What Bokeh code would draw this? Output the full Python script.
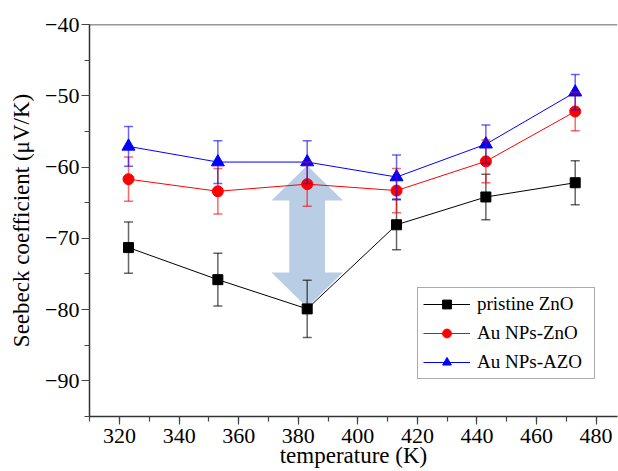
from bokeh.plotting import figure
from bokeh.models import (ColumnDataSource, Whisker, TeeHead, Span, Legend, LegendItem,
                          SingleIntervalTicker, CustomJSTickFormatter, Range1d)
from bokeh.embed import file_html
from bokeh.resources import INLINE

# ---- data ----
temperature = [323, 353, 383, 413, 443, 473]
pristine_zno = [-71.3, -75.8, -79.9, -68.1, -64.2, -62.2]
pristine_err = [3.6, 3.7, 4.0, 3.5, 3.2, 3.1]
au_zno = [-61.7, -63.4, -62.4, -63.3, -59.2, -52.2]
au_zno_err = [3.1, 3.2, 3.1, 3.1, 3.0, 2.7]
au_azo = [-57.1, -59.3, -59.3, -61.4, -56.8, -49.5]
au_azo_err = [2.8, 3.0, 3.0, 3.1, 2.7, 2.5]
series_names = ["pristine ZnO", "Au NPs-ZnO", "Au NPs-AZO"]

# arrow annotation (double-headed, at 383 K)
arrow_x = temperature[2]
arrow_top, arrow_bottom = -59.8, -79.7
arrow_head_len = 4.9
arrow_head_half = 12.0
arrow_shaft_half = 6.0

FONT = "'Liberation Serif', 'Times New Roman', serif"

p = figure(width=618, height=471, x_range=Range1d(309.9, 487.2), y_range=Range1d(-95, -40),
           output_backend="svg", toolbar_location=None,
           min_border_left=89, min_border_right=1, min_border_top=24, min_border_bottom=55)
p.outline_line_color = None
p.xgrid.visible = False
p.ygrid.visible = False
p.background_fill_color = "white"
p.border_fill_color = "white"

# arrow
ax = [arrow_x, arrow_x + arrow_head_half, arrow_x + arrow_shaft_half, arrow_x + arrow_shaft_half,
      arrow_x + arrow_head_half, arrow_x, arrow_x - arrow_head_half, arrow_x - arrow_shaft_half,
      arrow_x - arrow_shaft_half, arrow_x - arrow_head_half]
ay = [arrow_top, arrow_top - arrow_head_len, arrow_top - arrow_head_len,
      arrow_bottom + arrow_head_len, arrow_bottom + arrow_head_len, arrow_bottom,
      arrow_bottom + arrow_head_len, arrow_bottom + arrow_head_len,
      arrow_top - arrow_head_len, arrow_top - arrow_head_len]
p.patch(ax, ay, fill_color="#b9cde5", line_color=None)

colors = ["black", "#ff0000", "#0000ff"]
markers = ["square", "circle", "triangle"]
sizes = [10, 11, 13]
values = [pristine_zno, au_zno, au_azo]
errors = [pristine_err, au_zno_err, au_azo_err]

items = []
for name, col, mk, sz, vals, errs in zip(series_names, colors, markers, sizes, values, errors):
    src = ColumnDataSource(dict(x=temperature, y=vals,
                                upper=[v + e for v, e in zip(vals, errs)],
                                lower=[v - e for v, e in zip(vals, errs)]))
    ln = p.line("x", "y", source=src, line_color=col, line_width=1)
    sc = p.scatter("x", "y", source=src, marker=mk, size=sz, fill_color=col, line_color=col)
    w = Whisker(source=src, base="x", upper="upper", lower="lower", dimension="height",
                line_color=col, line_alpha=0.6, line_width=1.5, level="annotation",
                upper_head=TeeHead(size=9, line_color=col, line_alpha=0.6, line_width=1.5),
                lower_head=TeeHead(size=9, line_color=col, line_alpha=0.6, line_width=1.5))
    p.add_layout(w)
    items.append(LegendItem(label=name, renderers=[ln, sc]))

# top frame line
p.add_layout(Span(location=-40, dimension="width", line_color="#333333", line_width=1.5))

fmt = CustomJSTickFormatter(code="return tick < 0 ? '\u2212' + Math.abs(tick) : String(tick);")

for axis in (p.xaxis[0], p.yaxis[0]):
    axis.axis_line_color = "#333333"
    axis.axis_line_width = 1.5
    axis.major_tick_line_color = "#444444"
    axis.minor_tick_line_color = "#444444"
    axis.major_tick_line_width = 1.2
    axis.minor_tick_line_width = 1.2
    axis.major_tick_in = 0
    axis.major_tick_out = 8
    axis.minor_tick_in = 0
    axis.minor_tick_out = 5
    axis.major_label_text_font = FONT
    axis.major_label_text_font_size = "22px"
    axis.major_label_text_color = "black"
    axis.axis_label_text_font = FONT
    axis.axis_label_text_font_size = "23px"
    axis.axis_label_text_font_style = "normal"
    axis.axis_label_text_color = "black"

p.xaxis[0].ticker = SingleIntervalTicker(interval=20, num_minor_ticks=2)
p.yaxis[0].ticker = SingleIntervalTicker(interval=10, num_minor_ticks=2)
p.yaxis[0].formatter = fmt
p.xaxis[0].axis_label = "temperature (K)"
p.yaxis[0].axis_label = "Seebeck coefficient (\u03bcV/K)"
p.xaxis[0].major_label_standoff = 4
p.xaxis[0].axis_label_standoff = -3
p.yaxis[0].major_label_standoff = 2
p.yaxis[0].axis_label_standoff = 8

legend = Legend(items=items, location=(328, 37))
legend.label_text_font = FONT
legend.label_text_font_size = "19px"
legend.label_text_color = "black"
legend.border_line_color = "#555555"
legend.border_line_width = 1
legend.background_fill_color = "white"
legend.background_fill_alpha = 1
legend.padding = 5
legend.spacing = 7
legend.margin = 0
legend.glyph_width = 47
legend.glyph_height = 22
legend.label_height = 22
legend.label_standoff = 7
legend.label_width = 112
p.add_layout(legend)

open("out.html", "w").write(file_html(p, INLINE))
